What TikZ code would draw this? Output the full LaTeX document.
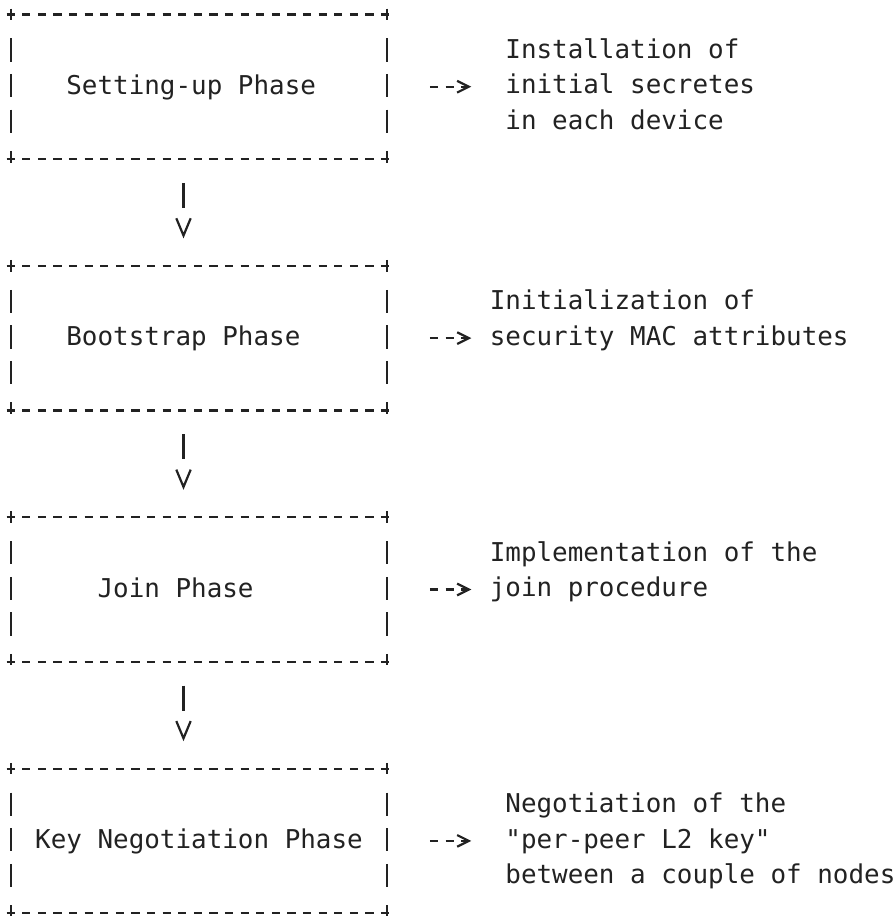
\documentclass[tikz,border=0pt]{standalone}
\usepackage{fontspec}
\setmonofont{DejaVu Sans Mono}
\usepackage{xcolor}
\usepackage{tikz}
\usetikzlibrary{positioning}
\usetikzlibrary{arrows.meta}

\definecolor{ink}{HTML}{222222}

\begin{document}
\begin{tikzpicture}[
      node distance=106.8pt and 117pt,
      color=ink, line width=2.2pt,
      every node/.style={font=\ttfamily\fontsize{25.91pt}{35.6pt}\selectfont},
      hedge/.style={dash pattern=on 8.3pt off 7.3pt,
        shorten <=-4.15pt, shorten >=-4.15pt},
      vedge/.style={dash pattern=on 11.7pt off 18.1pt on 23.3pt off 12.3pt
        on 23.3pt off 12.3pt on 23.3pt off 18.1pt on 11.7pt off 20pt,
        shorten <=-5.85pt, shorten >=-5.85pt},
      phasebox/.style={minimum width=374.4pt, minimum height=142.4pt,
        text width=358.8pt, align=flush left, inner sep=0pt,
        text height=25.6pt, text depth=10pt,
        append after command={
          (\tikzlastnode.north west) edge[hedge] (\tikzlastnode.north east)
          (\tikzlastnode.south west) edge[hedge] (\tikzlastnode.south east)
          (\tikzlastnode.north west) edge[vedge] (\tikzlastnode.south west)
          (\tikzlastnode.north east) edge[vedge] (\tikzlastnode.south east)}},
      notebox/.style={inner sep=0pt, align=left},
      downarrow/.style={shorten <=23.8pt, shorten >=27.4pt,
        dash pattern=on 25pt off 80pt,
        -{Straight Barb[length=17.3pt,width=14.4pt]}},
      sidearrow/.style={shorten <=42.6pt, dash pattern=on 8.3pt off 7.3pt,
        -{Straight Barb[length=11.7pt,width=11.7pt]}}
      ]

      \useasboundingbox (0,0) rectangle (895pt,-916pt);

      \node[phasebox] (p1) at (199pt,-86.7pt) {\hspace*{46.8pt}Setting-up Phase};
      \node[phasebox, below=of p1] (p2) {\hspace*{46.8pt}Bootstrap Phase};
      \node[phasebox, below=of p2] (p3) {\hspace*{78pt}Join Phase};
      \node[phasebox, below=of p3] (p4) {\hspace*{15.6pt}Key Negotiation Phase};

      \node[notebox, right=of p1] (n1)
        {\strut Installation of\\initial secretes\\in each device\strut};
      \node[notebox, right=101.4pt of p2, yshift=17.8pt] (n2)
        {\strut Initialization of\\security MAC attributes\strut};
      \node[notebox, right=101.4pt of p3, yshift=17.8pt] (n3)
        {\strut Implementation of the\\join procedure\strut};
      \node[notebox, right=of p4] (n4)
        {\strut Negotiation of the\\"per-peer L2 key"\\between a couple of nodes\strut};

      \path ([xshift=-15.5pt]p1.south) edge[downarrow] ([xshift=-15.5pt]p2.north)
      ([xshift=-15.5pt]p2.south) edge[downarrow] ([xshift=-15.5pt]p3.north)
      ([xshift=-15.5pt]p3.south) edge[downarrow] ([xshift=-15.5pt]p4.north)
      ;

      \path (p1.east) edge[sidearrow, shorten >=33pt] (p1.east -| n1.west)
      (p2.east) edge[sidearrow, shorten >=17.4pt] (p2.east -| n2.west)
      (p3.east) edge[sidearrow, shorten >=17.4pt] (p3.east -| n3.west)
      (p4.east) edge[sidearrow, shorten >=33pt] (p4.east -| n4.west)
      ;

    \end{tikzpicture}
\end{document}
